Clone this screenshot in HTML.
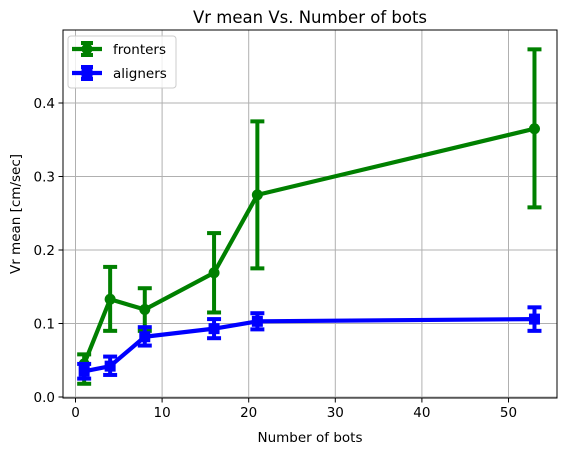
<!DOCTYPE html>
<html><head><meta charset="utf-8"><style>
body{margin:0;background:#fff;font-family:"DejaVu Sans","Liberation Sans",sans-serif;}
svg text{font-family:"DejaVu Sans","Liberation Sans",sans-serif;}
</style></head><body>
<svg id="chart" width="567" height="455" xmlns="http://www.w3.org/2000/svg"></svg>
<script>
const xs=[1,4,8,16,21,53];
const frontY=[0.045,0.133,0.119,0.169,0.275,0.365];
const frontLo=[0.018,0.090,0.090,0.115,0.175,0.258];
const frontHi=[0.058,0.177,0.148,0.223,0.375,0.473];
const alignY=[0.035,0.042,0.082,0.093,0.103,0.106];
const alignLo=[0.025,0.030,0.070,0.080,0.092,0.090];
const alignHi=[0.045,0.055,0.095,0.106,0.114,0.122];
const xTicks=[0,10,20,30,40,50];
const yTicks=[0.0,0.1,0.2,0.3,0.4];
const L=63,R=557,T=30,B=398;
const X=v=>75.5+v*8.66;
const Y=v=>397-v*735;
const svg=document.getElementById('chart');
const NS='http://www.w3.org/2000/svg';
function mk(t,a,p){const e=document.createElementNS(NS,t);for(const k in a)e.setAttribute(k,a[k]);(p||svg).appendChild(e);return e;}
let g=mk('g',{});


xTicks.forEach(t=>{mk('line',{x1:X(t),x2:X(t),y1:T,y2:B,stroke:'#b0b0b0','stroke-width':1},g);
 const tl=mk('text',{x:X(t),y:B+19,'font-size':13.5,'text-anchor':'middle'});tl.textContent=t;
 
 mk('line',{x1:X(t),x2:X(t),y1:B,y2:B+4.5,stroke:'#000','stroke-width':1});});
yTicks.forEach(t=>{mk('line',{x1:L,x2:R,y1:Y(t),y2:Y(t),stroke:'#b0b0b0','stroke-width':1},g);
 const tl=mk('text',{x:L-8,y:Y(t)+5,'font-size':13.5,'text-anchor':'end'});tl.textContent=t.toFixed(1);
 
 mk('line',{x1:L-4.5,x2:L,y1:Y(t),y2:Y(t),stroke:'#000','stroke-width':1});});
function series(name,ys,lo,hi,col,sq){
 const sg=mk('g',{});
 
 
 xs.forEach((x,i)=>{mk('line',{x1:X(x),x2:X(x),y1:Y(lo[i]),y2:Y(hi[i]),stroke:col,'stroke-width':4},sg);
  [lo[i],hi[i]].forEach(v=>mk('line',{x1:X(x)-7,x2:X(x)+7,y1:Y(v),y2:Y(v),stroke:col,'stroke-width':4},sg));});
 mk('polyline',{points:xs.map((x,i)=>X(x)+','+Y(ys[i])).join(' '),fill:'none',stroke:col,'stroke-width':4.2,'stroke-linejoin':'round'},sg);
 xs.forEach((x,i)=>{const m=sq?mk('rect',{x:X(x)-5.5,y:Y(ys[i])-5.5,width:11,height:11,fill:col},sg):mk('circle',{cx:X(x),cy:Y(ys[i]),r:5.5,fill:col},sg);
  });
}
series('fronters',frontY,frontLo,frontHi,'#008000',false);
series('aligners',alignY,alignLo,alignHi,'#0000ff',true);
mk('rect',{x:L,y:T,width:R-L,height:B-T,fill:'none',stroke:'#000','stroke-width':1});
let t=mk('text',{x:(L+R)/2,y:T-7,'font-size':16.5,'text-anchor':'middle'});t.textContent='Vr mean Vs. Number of bots';

t=mk('text',{x:(L+R)/2,y:442,'font-size':13.5,'text-anchor':'middle'});t.textContent='Number of bots';

t=mk('text',{x:20,y:(T+B)/2,'font-size':13.5,'text-anchor':'middle',transform:'rotate(-90 20 '+(T+B)/2+')'});t.textContent='Vr mean [cm/sec]';

const lg=mk('g',{});


mk('rect',{x:68,y:36,width:108,height:52,rx:3,fill:'#fff','fill-opacity':0.8,stroke:'#ccc'},lg);
[['fronters','#008000',false,49],['aligners','#0000ff',true,73]].forEach(([n,c,sq,y])=>{
 mk('line',{x1:72,x2:102,y1:y,y2:y,stroke:c,'stroke-width':4.2},lg);
 mk('line',{x1:87,x2:87,y1:y-6,y2:y+6,stroke:c,'stroke-width':4},lg);
 mk('line',{x1:81,x2:93,y1:y-6,y2:y-6,stroke:c,'stroke-width':4},lg);
 mk('line',{x1:81,x2:93,y1:y+6,y2:y+6,stroke:c,'stroke-width':4},lg);
 if(sq)mk('rect',{x:81.5,y:y-5.5,width:11,height:11,fill:c},lg);else mk('circle',{cx:87,cy:y,r:5.5,fill:c},lg);
 const e=mk('text',{x:113,y:y+5,'font-size':13.5},lg);e.textContent=n;
 });
</script>
</body></html>
